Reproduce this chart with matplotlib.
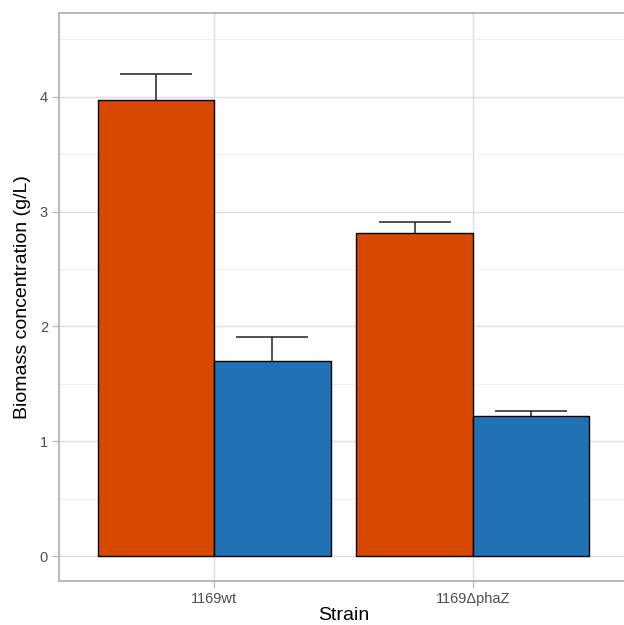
import numpy as np
import matplotlib.pyplot as plt
from matplotlib.ticker import MultipleLocator

strains = ['1169wt', '1169ΔphaZ']
# two conditions per strain, drawn side by side
biomass_a = [3.97, 2.81]
biomass_b = [1.70, 1.22]
err_a = [0.23, 0.10]
err_b = [0.21, 0.04]

plt.rcParams['font.family'] = ['Liberation Sans', 'DejaVu Sans']

fig = plt.figure(figsize=(6.24, 6.25), dpi=100)
ax = fig.add_axes([59 / 624, 44 / 625, 569 / 624, 568 / 625])

x = np.arange(1, len(strains) + 1)
w = 0.45

for xs, vals, errs, col in [(x - w / 2, biomass_a, err_a, '#D94801'),
                            (x + w / 2, biomass_b, err_b, '#2171B5')]:
    ax.errorbar(xs, vals, yerr=errs, fmt='none', ecolor='#222222',
                elinewidth=1.1, capsize=26, capthick=1.1, zorder=2)
    ax.bar(xs, vals, width=w, color=col, edgecolor='black', linewidth=1.0, zorder=3)

ax.set_xlim(0.4, 2.6)
ax.set_ylim(-0.217, 4.73)
ax.set_xticks(x)
ax.set_xticklabels(strains)
ax.yaxis.set_major_locator(MultipleLocator(1))
ax.yaxis.set_minor_locator(MultipleLocator(0.5))

ax.grid(which='major', color='#dedede', linewidth=1.0, zorder=0)
ax.grid(which='minor', axis='y', color='#efefef', linewidth=0.7, zorder=0)
ax.set_axisbelow(True)

for s in ax.spines.values():
    s.set_color('#b3b3b3')
    s.set_linewidth(1.3)

ax.tick_params(which='major', length=5, width=0.8, color='#b3b3b3',
               labelsize=10.5, labelcolor='#4d4d4d', pad=3)
ax.tick_params(which='minor', length=0)

ax.set_xlabel('Strain', fontsize=14, labelpad=1)
ax.set_ylabel('Biomass concentration (g/L)', fontsize=14, labelpad=6)

fig.savefig('out.png', dpi=100)
